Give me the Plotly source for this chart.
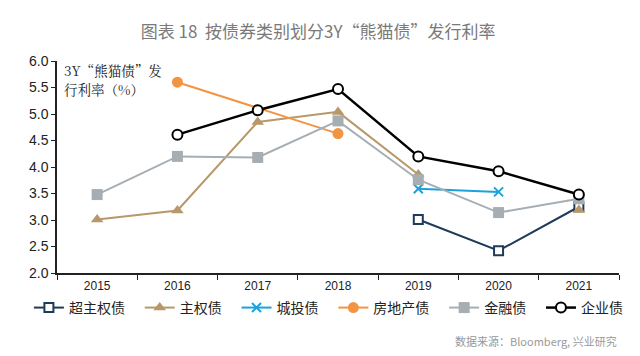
import plotly.graph_objects as go

years = ["2015", "2016", "2017", "2018", "2019", "2020", "2021"]
supra = [None, None, None, None, 3.01, 2.42, 3.25]
sovereign = [3.01, 3.18, 4.85, 5.04, 3.86, None, 3.19]
lgfv = [None, None, None, None, 3.59, 3.53, None]
realestate = [None, 5.6, None, 4.63, None, None, None]
financial = [3.48, 4.2, 4.18, 4.87, 3.76, 3.14, 3.4]
corporate = [None, 4.61, 5.07, 5.47, 4.2, 3.92, 3.48]

yticks = [2.0, 2.5, 3.0, 3.5, 4.0, 4.5, 5.0, 5.5, 6.0]

PAD = "\u2002\u2009"

fig = go.Figure()

def add(name, vals, color, symbol, size, fill, lw=2, gaps=False, pad=True):
    fig.add_trace(go.Scatter(
        x=years, y=vals, name=name + (PAD if pad else ""), mode="lines+markers",
        connectgaps=gaps,
        line=dict(color=color, width=lw),
        marker=dict(symbol=symbol, size=size, color=fill,
                    line=dict(color=color, width=2 if fill == "white" else (2 if symbol == "x-thin" else 0))),
    ))

add("超主权债", supra, "#1f3b5a", "square", 9, "white")
add("主权债", sovereign, "#b8986a", "triangle-up", 11, "#b8986a")
add("城投债", lgfv, "#1ba1dc", "x-thin", 9, "#1ba1dc")
add("房地产债", realestate, "#f39443", "circle", 11, "#f39443", gaps=True)
add("金融债", financial, "#a6aeb3", "square", 11, "#a6aeb3")
add("企业债", corporate, "#000000", "circle", 10, "white", lw=2.5, pad=False)

label_font = dict(size=13.5, color="#222", family="Noto Serif CJK SC, Noto Sans CJK SC, serif")

fig.update_layout(
    width=640, height=356,
    paper_bgcolor="white", plot_bgcolor="white",
    margin=dict(l=57, r=21, t=61, b=83, autoexpand=False),
    font=dict(family="Noto Sans CJK SC, Arial, sans-serif", color="#222"),
    title=dict(text="图表 18  按债券类别划分3Y“熊猫债”发行利率",
               x=0.497, xanchor="center", y=0.91, yanchor="middle",
               font=dict(size=17, color="#7a7a7a")),
    showlegend=True,
    legend=dict(orientation="h", xref="paper", yref="paper",
                x=-0.05, xanchor="left", y=-0.165, yanchor="middle",
                font=dict(size=14, color="#222"), itemsizing="trace",
                bgcolor="rgba(0,0,0,0)"),
    xaxis=dict(type="category", categoryorder="array", categoryarray=years,
               tickson="boundaries", ticks="outside", ticklen=5, tickcolor="#222",
               showline=True, linecolor="#222", linewidth=1.5, showgrid=False,
               ticklabelstandoff=1,
               tickfont=dict(family="Arial, Liberation Sans, sans-serif", size=12, color="#222"),
               range=[-0.5, 6.5]),
    yaxis=dict(range=[2, 6], tickvals=yticks, tickformat=".1f",
               ticks="outside", ticklen=4, tickcolor="#222",
               showline=True, linecolor="#222", linewidth=1.5, showgrid=False,
               zeroline=False,
               tickfont=dict(family="Arial, Liberation Sans, sans-serif", size=14, color="#222")),
    annotations=[
        dict(text="3Y“熊猫债”发", xref="paper", yref="paper",
             x=0.0, y=0.958, xanchor="left", yanchor="middle", showarrow=False,
             xshift=5, font=label_font),
        dict(text="行利率（%）", xref="paper", yref="paper",
             x=0.0, y=0.868, xanchor="left", yanchor="middle", showarrow=False,
             xshift=5, font=label_font),
        dict(text="数据来源：Bloomberg, 兴业研究", xref="paper", yref="paper",
             x=1.0, y=-0.32, xanchor="right", yanchor="middle", showarrow=False,
             font=dict(size=11, color="#999")),
    ],
)

fig.write_html("out.html", config={"displayModeBar": False},
               post_script="document.body.style.margin='0';")
